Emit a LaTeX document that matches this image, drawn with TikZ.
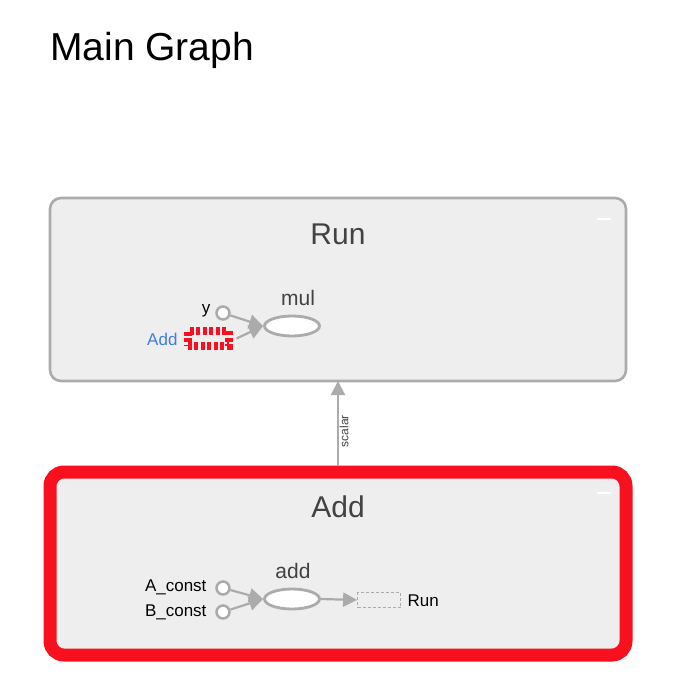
\documentclass[tikz,border=0pt]{standalone}
\usepackage{fontspec}
\setmainfont{Liberation Sans}
\usetikzlibrary{arrows.meta,shapes.geometric}
\definecolor{boxfill}{HTML}{EEEEEE}
\definecolor{boxline}{HTML}{ABABAB}
\definecolor{edgegray}{HTML}{ABABAB}
\definecolor{txt}{HTML}{424242}
\definecolor{redhl}{HTML}{F8101E}
\definecolor{bluelbl}{HTML}{3F7FE0}
\tikzset{
  x=1pt,y=-1pt,
  group/.style={draw=boxline,line width=2.6pt,fill=boxfill,rounded corners=11pt},
  optitle/.style={font=\fontsize{30}{32}\selectfont,text=txt},
  opnode/.style={ellipse,draw=boxline,line width=2.8pt,fill=white,minimum width=55pt,minimum height=20pt,inner sep=0pt},
  constnode/.style={circle,draw=boxline,line width=2.5pt,fill=white,minimum size=13pt,inner sep=0pt},
  small/.style={font=\fontsize{17}{19}\selectfont,text=black},
  opname/.style={font=\fontsize{21}{23}\selectfont,text=txt},
  edge/.style={draw=edgegray,line width=2.2pt,-{Triangle[length=14pt,width=14pt]}},
}
\begin{document}
\begin{tikzpicture}
\useasboundingbox[fill=white] (0,0) rectangle (696,696);
\node[anchor=base west,font=\fontsize{39}{42}\selectfont,inner sep=0pt] (title) at (50,60) {Main Graph};

% Run group
\path[group] (50,198) rectangle (626,381);
\coordinate (runbot) at (338,381);
\node[optitle] (runlbl) at (338,234) {Run};
\draw[white,line width=2pt] (597,219) -- (611,219);
\node[opnode] (mul) at (292,326) {};
\node[opname] (mullbl) at (298,298) {mul};
\node[constnode] (y) at (223,313) {};
\node[small,anchor=east,font=\fontsize{17}{19}\selectfont] (ylbl) at (214,311) {y};
\node[draw=redhl,dash pattern=on 4pt off 2.5pt,line width=8pt,minimum width=41pt,minimum height=15pt,inner sep=0pt] (addref) at (208,338.5) {};
\node[small,text=bluelbl,anchor=east] (addreflbl) at (181,339) {Add};
\draw[edge] (y) -- (mul.west);
\draw[edge] ([xshift=4pt]addref.east) -- (mul.west);

% Add group
\path[group,draw=redhl,line width=13pt,rounded corners=14pt] (50,472) rectangle (626,655);
\coordinate (addtop) at (338,466);
\node[optitle] (addlbl) at (338,507) {Add};
\draw[white,line width=2pt] (597,493) -- (611,493);
\node[opnode] (add) at (292,599) {};
\node[opname] (addoplbl) at (293,571) {add};
\node[constnode] (ac) at (223,588) {};
\node[constnode] (bc) at (223,612) {};
\node[small,anchor=east] (aclbl) at (210,587) {A\_const};
\node[small,anchor=east] (bclbl) at (210,612) {B\_const};
\node[draw=boxline,dashed,dash pattern=on 3pt off 2pt,line width=0.8pt,minimum width=43pt,minimum height=15pt,inner sep=0pt] (runref) at (379,600) {};
\node[small,anchor=west] (runreflbl) at (404,601) {Run};
\draw[edge] (ac) -- (add.west);
\draw[edge] (bc) -- (add.west);
\draw[edge] (add.east) -- (runref.west);

% scalar edge
\draw[edge] (addtop) -- (runbot);
\node[font=\fontsize{12}{13}\selectfont,text=txt,rotate=90] (scalar) at (344,431) {scalar};
\end{tikzpicture}
\end{document}
